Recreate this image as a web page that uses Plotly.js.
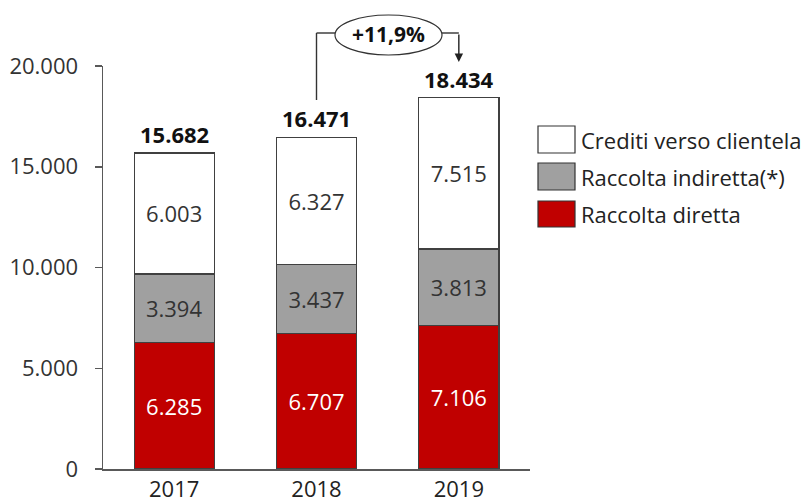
<!DOCTYPE html>
<html>
<head>
<meta charset="utf-8">
<script src="https://cdn.plot.ly/plotly-3.0.1.min.js"></script>
<style>html,body{margin:0;padding:0;background:#fff;}#chart{width:804px;height:502px;}</style>
</head>
<body>
<div id="chart"></div>
<script>
var years = ['2017', '2018', '2019'];
var raccoltaDiretta = [6285, 6707, 7106];
var raccoltaIndiretta = [3394, 3437, 3813];
var creditiClientela = [6003, 6327, 7515];
var seriesNames = ['Raccolta diretta', 'Raccolta indiretta(*)', 'Crediti verso clientela'];
var growthLabel = '+11,9%';
var yTicks = [0, 5000, 10000, 15000, 20000];

var FONT = 'Open Sans, Noto Sans, sans-serif';
var colors = ['#C00000', '#A0A0A0', '#FFFFFF'];
var textColors = ['#FFFFFF', '#333333', '#333333'];
var series = [raccoltaDiretta, raccoltaIndiretta, creditiClientela];

// layout geometry (pixels)
var W = 804, H = 502, L = 103, R = 530, T = 66, B = 469;
function px(x) { return (x - L) / (R - L); }
function py(y) { return (B - y) / (B - T); }
function catX(i) { return (i + 0.5) / years.length; }

var traces = series.map(function (vals, k) {
  return {
    type: 'bar',
    x: years,
    y: vals,
    name: seriesNames[k],
    marker: {color: colors[k], line: {color: '#404040', width: 1.2}},
    texttemplate: '%{y:,d}',
    textposition: 'inside',
    insidetextanchor: 'middle',
    textangle: 0,
    constraintext: 'none',
    textfont: {family: FONT, size: 22, color: textColors[k]},
    hoverinfo: 'x+y+name'
  };
});

var totals = years.map(function (_, i) {
  return raccoltaDiretta[i] + raccoltaIndiretta[i] + creditiClientela[i];
});

var fmt = function (v) { return String(v).replace(/\B(?=(\d{3})+(?!\d))/g, '.'); };

var annotations = totals.map(function (t, i) {
  return {
    x: i, y: t, xref: 'x', yref: 'y',
    text: '<b>' + fmt(t) + '</b>', showarrow: false,
    xanchor: 'center', yanchor: 'bottom', yshift: 2,
    font: {family: FONT, size: 22, color: '#111111'}
  };
});

// growth label in ellipse
annotations.push({
  x: px(388), y: py(34), xref: 'paper', yref: 'paper',
  xanchor: 'center', yanchor: 'middle',
  text: '<b>' + growthLabel + '</b>', showarrow: false,
  font: {family: FONT, size: 21, color: '#111111'}
});
// arrow down toward 2019
annotations.push({
  x: catX(2), y: py(62), xref: 'paper', yref: 'paper',
  text: '', showarrow: true, ax: 0, ay: -(62 - 33),
  arrowhead: 2, arrowsize: 1.2, arrowwidth: 1.4, arrowcolor: '#222222', standoff: 0
});

var shapes = [
  {type: 'line', xref: 'paper', yref: 'paper', x0: catX(1), x1: catX(1), y0: py(100), y1: py(33), line: {color: '#333333', width: 1.4}},
  {type: 'line', xref: 'paper', yref: 'paper', x0: catX(1), x1: px(335), y0: py(33), y1: py(33), line: {color: '#333333', width: 1.4}},
  {type: 'line', xref: 'paper', yref: 'paper', x0: px(442), x1: catX(2), y0: py(33), y1: py(33), line: {color: '#333333', width: 1.4}},
  {type: 'circle', xref: 'paper', yref: 'paper', x0: px(335), x1: px(442), y0: py(55), y1: py(15), line: {color: '#333333', width: 1.2}, fillcolor: 'rgba(0,0,0,0)'}
];

// manual legend
var legendOrder = [2, 1, 0];
var legendRows = [[126, 153], [163, 190], [201, 227]];
legendOrder.forEach(function (k, r) {
  var yr = legendRows[r];
  shapes.push({type: 'rect', xref: 'paper', yref: 'paper', x0: px(538), x1: px(575), y0: py(yr[1]), y1: py(yr[0]),
    fillcolor: colors[k], line: {color: '#333333', width: 1.2}});
  annotations.push({x: px(579), y: py((yr[0] + yr[1]) / 2), xref: 'paper', yref: 'paper',
    xanchor: 'left', yanchor: 'middle', showarrow: false, text: seriesNames[k],
    font: {family: FONT, size: 22, color: '#222222'}});
});

var layout = {
  width: W, height: H,
  margin: {l: L, r: W - R, t: T, b: H - B, pad: 0},
  paper_bgcolor: '#ffffff', plot_bgcolor: '#ffffff',
  barmode: 'stack', bargap: 0.437,
  showlegend: false,
  separators: ',.',
  font: {family: FONT, size: 22, color: '#333333'},
  xaxis: {
    type: 'category', range: [-0.5, years.length - 0.5], autorange: false,
    showgrid: false, zeroline: false,
    showline: true, linecolor: '#595959', linewidth: 1.5,
    ticks: '', tickfont: {family: FONT, size: 22, color: '#222222'},
    fixedrange: true
  },
  yaxis: {
    range: [0, 20000], autorange: false, tickvals: yTicks, tickformat: ',d',
    showgrid: false, zeroline: false,
    showline: true, linecolor: '#595959', linewidth: 1.5,
    ticks: 'outside', ticklen: 7, tickcolor: '#595959', tickwidth: 1.5,
    ticklabelstandoff: 12,
    tickfont: {family: FONT, size: 22, color: '#333333'},
    fixedrange: true
  },
  shapes: shapes,
  annotations: annotations
};

Plotly.newPlot('chart', traces, layout, {displayModeBar: false, staticPlot: true});
</script>
</body>
</html>
